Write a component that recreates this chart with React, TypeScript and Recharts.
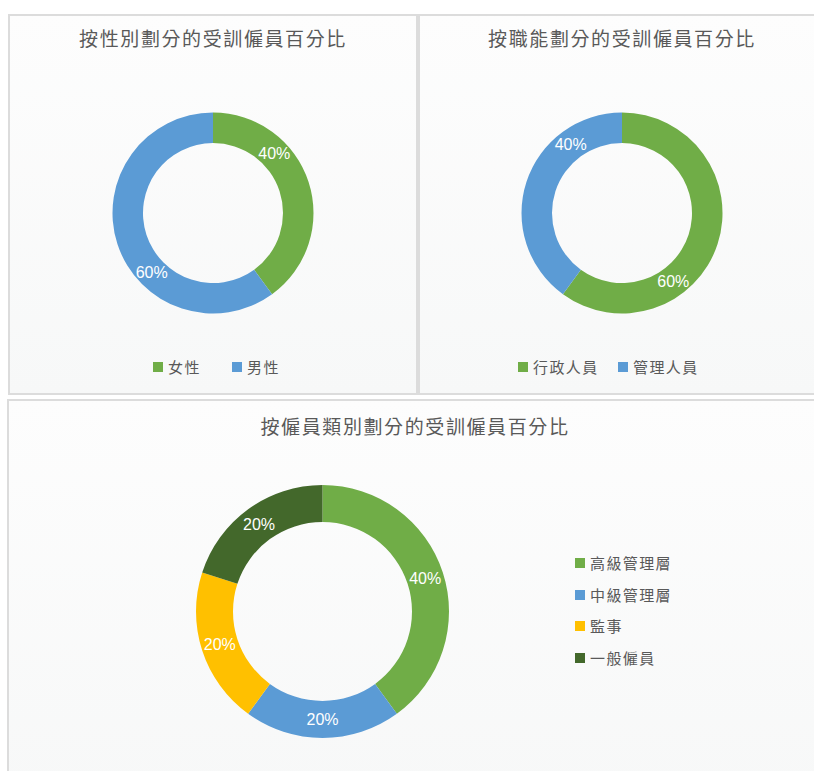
import React from 'react';
import { PieChart, Pie, Cell, Legend } from 'recharts';

// ---- data ----
const genderCategories = ['女性', '男性'];
const genderValues = [40, 60];

const functionCategories = ['行政人員', '管理人員'];
const functionValues = [60, 40];

const levelCategories = ['高級管理層', '中級管理層', '監事', '一般僱員'];
const levelValues = [40, 20, 20, 20];

const titleGender = '按性別劃分的受訓僱員百分比';
const titleFunction = '按職能劃分的受訓僱員百分比';
const titleLevel = '按僱員類別劃分的受訓僱員百分比';

// ---- styles ----
const GREEN = '#70AD47';
const BLUE = '#5B9BD5';
const YELLOW = '#FFC000';
const DARK_GREEN = '#43682B';

const TEXT = '#595959';
const CJK = '"Noto Sans CJK TC", "Noto Sans CJK SC", "Noto Sans", sans-serif';
const LATIN = '"Liberation Sans", Arial, "DejaVu Sans", sans-serif';

const RAD = Math.PI / 180;

const makeLabel = (shift: number) => (p: any) => {
  const r = (p.innerRadius + p.outerRadius) / 2;
  const a = (p.midAngle + shift) * RAD;
  const x = p.cx + r * Math.cos(-a);
  const y = p.cy + r * Math.sin(-a);
  return (
    <text
      x={x}
      y={y}
      fill="#FFFFFF"
      fontSize={16}
      fontFamily={LATIN}
      textAnchor="middle"
      dominantBaseline="central"
    >
      {`${p.value}%`}
    </text>
  );
};

const makeLegend = (
  categories: string[],
  vertical: boolean,
  itemWidth: number,
  rowHeight: number
) => (props: any) => {
  const payload = [...(props.payload || [])].sort(
    (a: any, b: any) => categories.indexOf(a.value) - categories.indexOf(b.value)
  );
  return (
    <div style={{ display: 'flex', flexDirection: vertical ? 'column' : 'row' }}>
      {payload.map((e: any, i: number) => (
        <div
          key={i}
          style={{
            display: 'flex',
            alignItems: 'center',
            width: vertical ? undefined : itemWidth,
            height: rowHeight,
          }}
        >
          <span
            style={{
              display: 'inline-block',
              width: 10,
              height: 10,
              background: e.color,
              marginRight: 5,
              flex: 'none',
            }}
          />
          <span
            style={{
              fontFamily: CJK,
              fontSize: 15,
              letterSpacing: 1.4,
              color: TEXT,
              whiteSpace: 'nowrap',
              lineHeight: '20px',
            }}
          >
            {e.value}
          </span>
        </div>
      ))}
    </div>
  );
};

interface PanelProps {
  left: number;
  top: number;
  width: number;
  height: number;
  title: string;
  titleTop: number;
  categories: string[];
  values: number[];
  colors: string[];
  cx: number;
  cy: number;
  inner: number;
  outer: number;
  labelShift: number;
  legendLeft: number;
  legendTop: number;
  legendVertical: boolean;
  legendItemWidth: number;
  legendRowHeight: number;
}

function Panel(p: PanelProps) {
  const data = p.categories.map((name, i) => ({ name, value: p.values[i] }));
  return (
    <div
      style={{
        position: 'absolute',
        left: p.left,
        top: p.top,
        width: p.width,
        height: p.height,
        background: 'linear-gradient(to bottom, #FDFDFD, #F7F8F8)',
        boxShadow: 'inset 0 0 0 2px #DCDCDC',
      }}
    >
      <div
        style={{
          position: 'absolute',
          left: 0,
          top: p.titleTop,
          width: '100%',
          textAlign: 'center',
          fontFamily: CJK,
          fontSize: 19,
          letterSpacing: 1.6,
          lineHeight: '24px',
          color: TEXT,
          fontWeight: 400,
        }}
      >
        {p.title}
      </div>
      <div style={{ position: 'absolute', left: 0, top: 0 }}>
        <PieChart
          width={p.width}
          height={p.height}
          margin={{ top: 0, right: 0, bottom: 0, left: 0 }}
        >
          <Pie
            data={data}
            dataKey="value"
            nameKey="name"
            cx={p.cx}
            cy={p.cy}
            innerRadius={p.inner}
            outerRadius={p.outer}
            startAngle={90}
            endAngle={-270}
            stroke="none"
            label={makeLabel(p.labelShift)}
            labelLine={false}
            isAnimationActive={false}
          >
            {data.map((_, i) => (
              <Cell key={i} fill={p.colors[i]} />
            ))}
          </Pie>
          <Legend
            content={makeLegend(p.categories, p.legendVertical, p.legendItemWidth, p.legendRowHeight)}
            wrapperStyle={{
              position: 'absolute',
              left: p.legendLeft,
              top: p.legendTop,
              width: 'auto',
              height: 'auto',
              bottom: 'auto',
              right: 'auto',
            }}
          />
        </PieChart>
      </div>
    </div>
  );
}

export default function App() {
  return (
    <div
      style={{
        position: 'fixed',
        left: 0,
        top: 0,
        width: 814,
        height: 771,
        overflow: 'hidden',
        background: '#FFFFFF',
        fontFamily: CJK,
      }}
    >
      <Panel
        left={8}
        top={14}
        width={410}
        height={381}
        title={titleGender}
        titleTop={11.5}
        categories={genderCategories}
        values={genderValues}
        colors={[GREEN, BLUE]}
        cx={205}
        cy={199}
        inner={70}
        outer={100.5}
        labelShift={26}
        legendLeft={145}
        legendTop={343}
        legendVertical={false}
        legendItemWidth={79}
        legendRowHeight={20}
      />
      <Panel
        left={418}
        top={14}
        width={408}
        height={381}
        title={titleFunction}
        titleTop={11.5}
        categories={functionCategories}
        values={functionValues}
        colors={[GREEN, BLUE]}
        cx={204}
        cy={199}
        inner={70}
        outer={100.5}
        labelShift={-35}
        legendLeft={100}
        legendTop={343}
        legendVertical={false}
        legendItemWidth={100}
        legendRowHeight={20}
      />
      <Panel
        left={7}
        top={399}
        width={816}
        height={400}
        title={titleLevel}
        titleTop={15}
        categories={levelCategories}
        values={levelValues}
        colors={[GREEN, BLUE, YELLOW, DARK_GREEN]}
        cx={315.5}
        cy={212.5}
        inner={89.5}
        outer={126.5}
        labelShift={0}
        legendLeft={568}
        legendTop={148}
        legendVertical={true}
        legendItemWidth={0}
        legendRowHeight={31.7}
      />
    </div>
  );
}
